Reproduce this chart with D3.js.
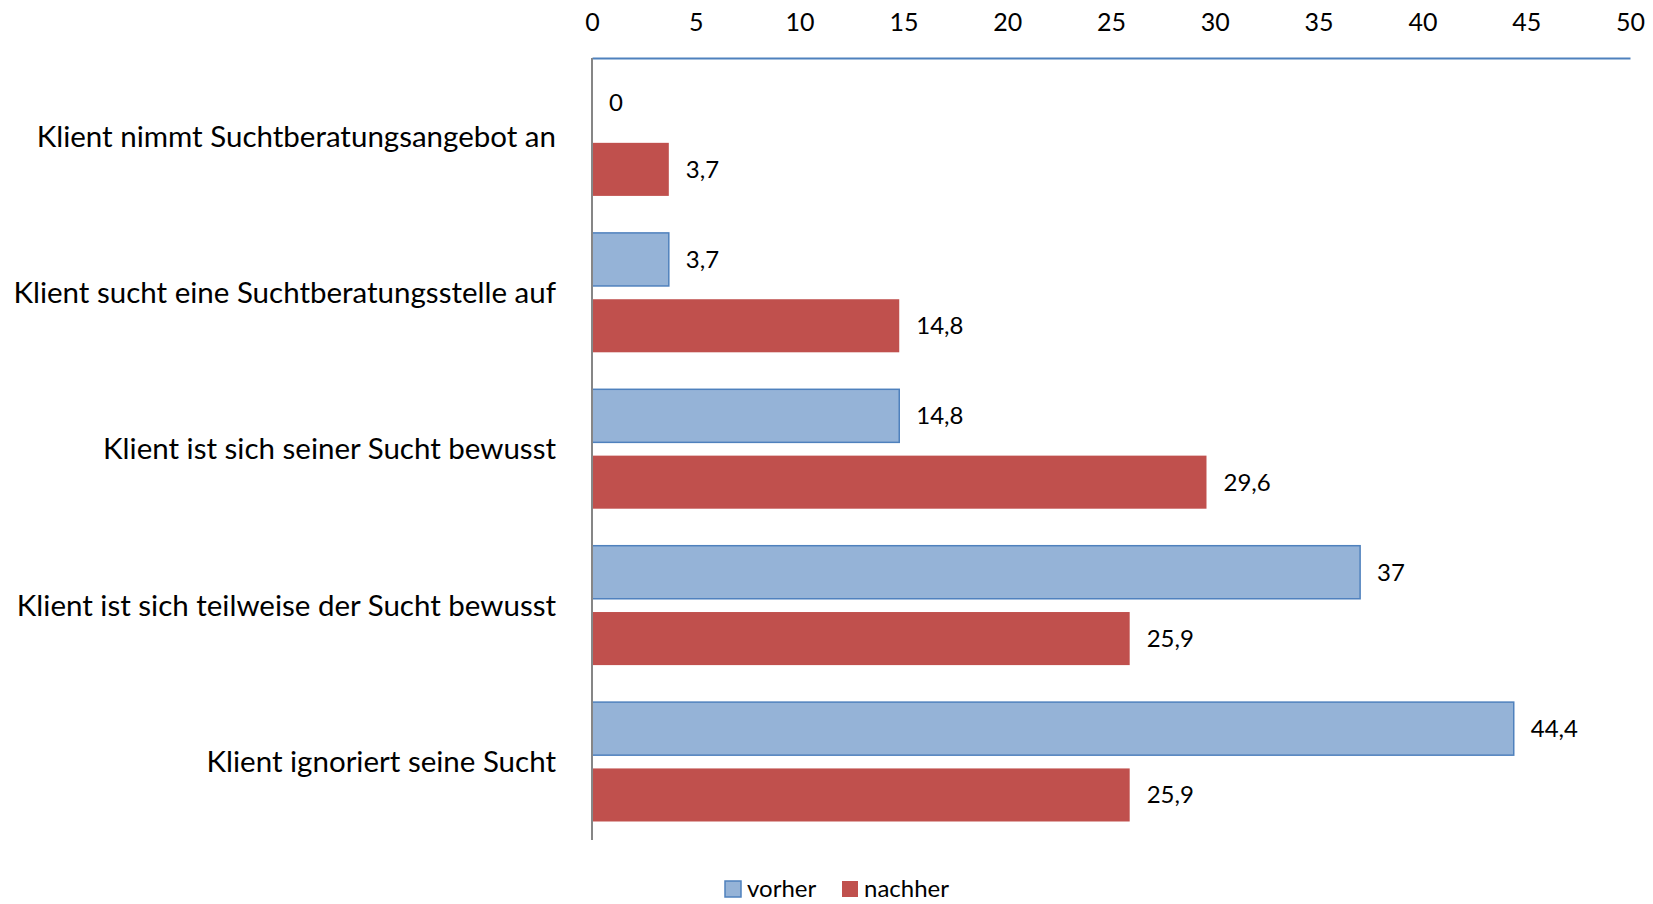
<!DOCTYPE html>
<html>
<head>
<meta charset="utf-8">
<script src="https://cdn.jsdelivr.net/npm/d3@7"></script>
<style>
  body { margin: 0; background: #fff; }
  svg { display: block; font-family: Lato, "Open Sans", sans-serif; }
</style>
</head>
<body>
<svg id="chart"></svg>
<script>
const categories = [
  "Klient nimmt Suchtberatungsangebot an",
  "Klient sucht eine Suchtberatungsstelle auf",
  "Klient ist sich seiner Sucht bewusst",
  "Klient ist sich teilweise der Sucht bewusst",
  "Klient ignoriert seine Sucht"
];
const seriesNames = ["vorher", "nachher"];
const vorher = [0, 3.7, 14.8, 37, 44.4];
const nachher = [3.7, 14.8, 29.6, 25.9, 25.9];
const xTicks = [0, 5, 10, 15, 20, 25, 30, 35, 40, 45, 50];

const width = 1653, height = 904;
const margin = { top: 58, right: 23, bottom: 64, left: 592 };

const fills = { vorher: "#95B3D7", nachher: "#C0504D" };
const strokes = { vorher: "#4F81BD", nachher: "none" };

const fmt = v => String(v).replace(".", ",");

const svg = d3.select("#chart")
  .attr("width", width)
  .attr("height", height);

const x = d3.scaleLinear()
  .domain([0, 50])
  .range([margin.left, width - margin.right]);

const y = d3.scaleBand()
  .domain(categories)
  .range([margin.top, height - margin.bottom])
  .paddingInner(0.2366)
  .paddingOuter(0.1183);

const ySub = d3.scaleBand()
  .domain(seriesNames)
  .range([0, y.bandwidth()])
  .paddingInner(0.2);

const rows = categories.map((c, i) => ({
  cat: c,
  values: [
    { key: "vorher", v: vorher[i] },
    { key: "nachher", v: nachher[i] }
  ]
}));

// value axis on top
const xAxis = svg.append("g")
  .attr("transform", `translate(0,${margin.top})`)
  .call(d3.axisTop(x).tickValues(xTicks).tickSize(0).tickPadding(27).tickFormat(d => d));

xAxis.select(".domain").attr("stroke", "#4F81BD").attr("stroke-width", 2);
xAxis.selectAll("text")
  .attr("font-size", 25)
  .attr("font-family", "Lato, 'Open Sans', sans-serif")
  .attr("fill", "#000");

// bars
const groups = svg.selectAll("g.row")
  .data(rows)
  .enter().append("g")
  .attr("class", "row")
  .attr("transform", d => `translate(0,${y(d.cat)})`);

groups.selectAll("rect")
  .data(d => d.values)
  .enter().append("rect")
  .attr("x", x(0))
  .attr("y", d => ySub(d.key))
  .attr("width", d => x(d.v) - x(0))
  .attr("height", ySub.bandwidth())
  .attr("fill", d => fills[d.key])
  .attr("stroke", d => strokes[d.key])
  .attr("stroke-width", 1.5);

groups.selectAll("text.val")
  .data(d => d.values)
  .enter().append("text")
  .attr("class", "val")
  .attr("x", d => x(d.v) + 17)
  .attr("y", d => ySub(d.key) + ySub.bandwidth() / 2)
  .attr("dy", "0.35em")
  .attr("font-size", 24)
  .attr("fill", "#000")
  .text(d => fmt(d.v));

// category labels
svg.selectAll("text.cat")
  .data(categories)
  .enter().append("text")
  .attr("class", "cat")
  .attr("x", 556)
  .attr("y", d => y(d) + y.bandwidth() / 2)
  .attr("dy", "0.35em")
  .attr("text-anchor", "end")
  .attr("font-size", 29.5)
  .attr("fill", "#000")
  .text(d => d);

// category axis line
svg.append("line")
  .attr("x1", x(0)).attr("x2", x(0))
  .attr("y1", margin.top).attr("y2", height - margin.bottom)
  .attr("stroke", "#868686")
  .attr("stroke-width", 2);

// legend
const legend = svg.append("g").attr("transform", "translate(725,889)");
const legendX = { vorher: 0, nachher: 117 };
const items = legend.selectAll("g")
  .data(seriesNames)
  .enter().append("g")
  .attr("transform", d => `translate(${legendX[d]},0)`);

items.append("rect")
  .attr("x", 0).attr("y", -8)
  .attr("width", 16).attr("height", 16)
  .attr("fill", d => fills[d])
  .attr("stroke", d => strokes[d])
  .attr("stroke-width", 1.5);

items.append("text")
  .attr("x", 22)
  .attr("y", 0)
  .attr("dy", "0.35em")
  .attr("font-size", 24)
  .attr("fill", "#000")
  .text(d => d);
</script>
</body>
</html>
